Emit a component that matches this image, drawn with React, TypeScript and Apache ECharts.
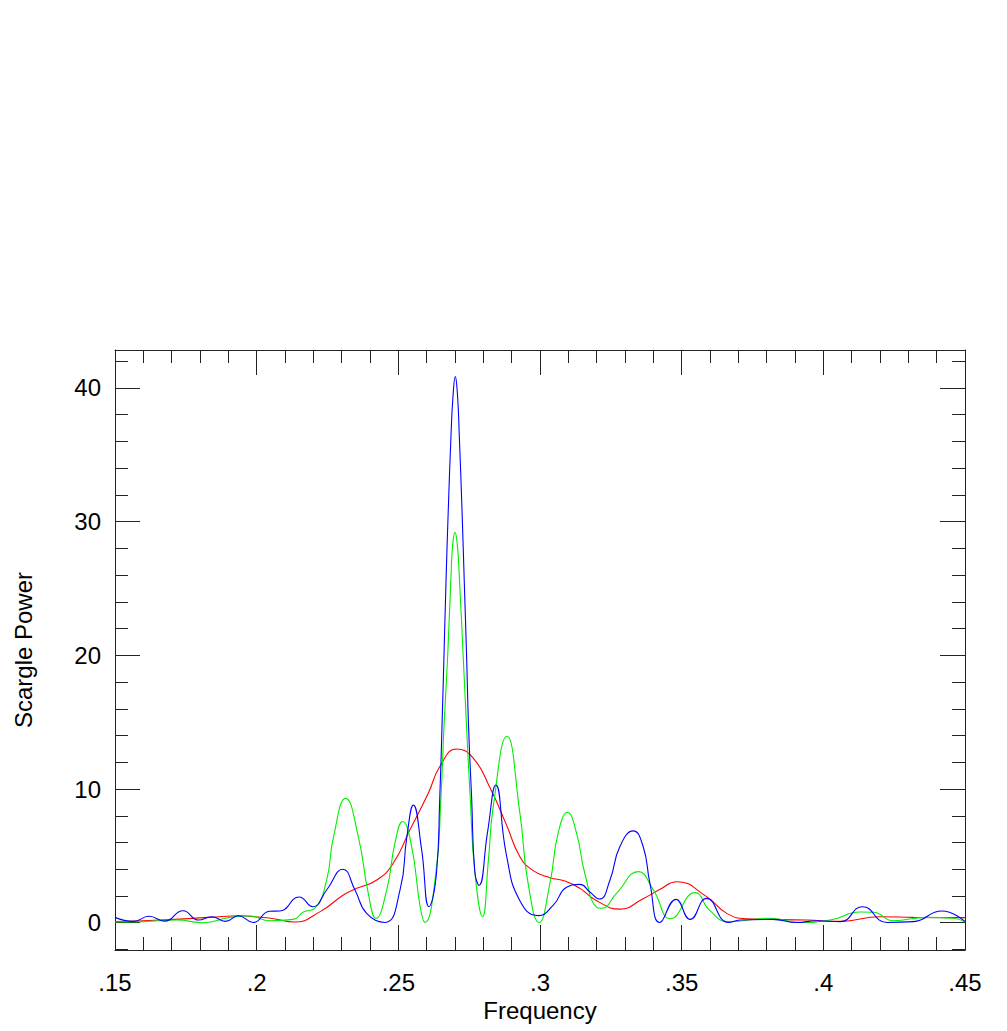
import React, { useEffect, useRef } from "react";
import * as echarts from "echarts";

// ---- Axis ticks / labels ----
const xMajorTicks = [0.15, 0.2, 0.25, 0.3, 0.35, 0.4, 0.45];
const xTickLabels = [".15", ".2", ".25", ".3", ".35", ".4", ".45"];
const xMinorTicks = [
  0.16, 0.17, 0.18, 0.19, 0.21, 0.22, 0.23, 0.24, 0.26, 0.27, 0.28, 0.29,
  0.31, 0.32, 0.33, 0.34, 0.36, 0.37, 0.38, 0.39, 0.41, 0.42, 0.43, 0.44,
];
const yMajorTicks = [0, 10, 20, 30, 40];
const yTickLabels = ["0", "10", "20", "30", "40"];
const yMinorTicks = [
  -2, 2, 4, 6, 8, 12, 14, 16, 18, 22, 24, 26, 28, 32, 34, 36, 38, 42,
];
const xMin = 0.15;
const xMax = 0.45;
const yMin = -2.04;
const yMax = 42.84;

// ---- Blue series ----
const blueFreq = [
  0.15, 0.1565, 0.162, 0.1675, 0.174, 0.1795, 0.184, 0.189, 0.1935, 0.1988,
  0.2045, 0.2082, 0.215, 0.2198, 0.2247, 0.2304, 0.2347, 0.2388, 0.2453,
  0.2506, 0.253, 0.2553, 0.2582, 0.2608, 0.2635, 0.2646, 0.2654, 0.2661,
  0.2668, 0.2676, 0.2686, 0.2693, 0.2701, 0.2709, 0.2715, 0.2725, 0.2733,
  0.2741, 0.2748, 0.2759, 0.277, 0.2785, 0.2815, 0.2844, 0.2882, 0.2929,
  0.2994, 0.3047, 0.3094, 0.3141, 0.3176, 0.321, 0.3247, 0.3282, 0.3329,
  0.3364, 0.3388, 0.3423, 0.348, 0.353, 0.3588, 0.3665, 0.3706, 0.3824,
  0.3906, 0.3976, 0.406, 0.4138, 0.4224, 0.4318, 0.4418, 0.45,
];
const bluePower = [
  0.4, 0.1, 0.48, 0.12, 0.9, 0.2, 0.45, 0.1, 0.52, 0.02, 0.86, 0.88, 1.92,
  1.2, 2.45, 4.0, 2.45, 0.7, 0.02, 2.45, 6.4, 8.8, 5.5, 1.2, 3.8, 9.2, 14.6,
  19.9, 25.3, 30.7, 36.5, 39.4, 40.85, 39.4, 36.5, 30.7, 25.3, 19.9, 14.6,
  9.2, 3.8, 2.8, 6.8, 10.3, 5.0, 1.65, 0.53, 1.32, 2.65, 2.87, 2.3, 1.77, 3.2,
  5.7, 6.87, 5.7, 2.95, 0.02, 1.75, 0.25, 1.82, 0.02, 0.2, 0.25, 0.02, 0.15,
  0.08, 1.2, 0.02, 0.08, 0.88, 0.1,
];

// ---- Green series ----
const greenFreq = [
  0.15, 0.16, 0.1718, 0.1812, 0.1906, 0.1976, 0.2047, 0.2129, 0.2165, 0.2206,
  0.2247, 0.2271, 0.2314, 0.2359, 0.2394, 0.2421, 0.2459, 0.2488, 0.2515,
  0.2547, 0.2577, 0.2594, 0.2633, 0.265, 0.2661, 0.2674, 0.2686, 0.2692,
  0.27, 0.2708, 0.2715, 0.2729, 0.2741, 0.2754, 0.277, 0.2797, 0.2818,
  0.2835, 0.2883, 0.2929, 0.2958, 0.2997, 0.3035, 0.3064, 0.3097, 0.3129,
  0.3158, 0.32, 0.3217, 0.327, 0.3347, 0.34, 0.3461, 0.3547, 0.36, 0.3665,
  0.381, 0.3918, 0.4024, 0.413, 0.4177, 0.4247, 0.4365, 0.446, 0.45,
];
const greenPower = [
  0.05, 0.08, 0.2, 0.0, 0.4, 0.5, 0.15, 0.25, 0.8, 1.1, 3.2, 6.4, 9.3, 6.4,
  2.2, 0.33, 2.45, 5.95, 7.57, 5.7, 1.2, 0.02, 3.8, 9.2, 14.6, 19.9, 26.0,
  28.3, 29.2, 28.3, 26.0, 19.9, 14.6, 9.2, 3.8, 0.45, 4.7, 8.7, 13.95, 8.2,
  2.95, 0.02, 2.95, 6.7, 8.24, 6.7, 3.7, 1.15, 1.08, 2.2, 3.82, 2.45, 0.3,
  2.25, 0.9, 0.08, 0.33, 0.02, 0.2, 0.8, 0.78, 0.15, 0.4, 0.33, 0.05,
];

// ---- Red series ----
const redFreq = [
  0.15, 0.1659, 0.1835, 0.1947, 0.199, 0.206, 0.2132, 0.2224, 0.2306, 0.2353,
  0.2424, 0.2482, 0.2541, 0.2606, 0.2647, 0.2706, 0.2765, 0.2824, 0.2882,
  0.2929, 0.2976, 0.3035, 0.3088, 0.3141, 0.32, 0.3282, 0.3364, 0.3424,
  0.3482, 0.3588, 0.3659, 0.373, 0.3941, 0.406, 0.42, 0.4318, 0.45,
];
const redPower = [
  0.08, 0.2, 0.4, 0.52, 0.45, 0.3, 0.05, 0.83, 2.07, 2.57, 3.2, 4.45, 6.95,
  9.7, 11.7, 13.0, 12.3, 10.07, 7.3, 4.94, 3.9, 3.37, 3.12, 2.57, 1.65, 1.02,
  1.8, 2.5, 3.07, 1.95, 0.7, 0.3, 0.2, 0.1, 0.45, 0.4, 0.38,
];

const FONT = "'Liberation Sans', Arial, Helvetica, sans-serif";
const AXIS_COLOR = "#222";

function pairs(xs: number[], ys: number[]) {
  return xs.map((x, i) => [x, ys[i]]);
}

export default function App() {
  const ref = useRef<HTMLDivElement>(null);

  useEffect(() => {
    if (!ref.current) return;
    const chart = echarts.init(ref.current, undefined, { renderer: "svg" });

    const lineStyle = { color: AXIS_COLOR, width: 1 };
    const labelStyle = { fontSize: 24, color: "#000", fontFamily: FONT };

    const xBase = {
      type: "value" as const,
      min: xMin,
      max: xMax,
      splitLine: { show: false },
    };
    const yBase = {
      type: "value" as const,
      min: yMin,
      max: yMax,
      splitLine: { show: false },
    };

    const xLabelFmt = (v: number) => {
      const i = xMajorTicks.findIndex((t) => Math.abs(t - v) < 1e-6);
      return i >= 0 ? xTickLabels[i] : "";
    };
    const yLabelFmt = (v: number) => {
      const i = yMajorTicks.findIndex((t) => Math.abs(t - v) < 1e-6);
      return i >= 0 ? yTickLabels[i] : "";
    };

    const seriesCommon = {
      type: "line" as const,
      xAxisIndex: 0,
      yAxisIndex: 0,
      smooth: 0.5,
      showSymbol: false,
    };

    chart.setOption({
      animation: false,
      backgroundColor: "#fff",
      grid: {
        left: 115,
        right: 42,
        top: 350,
        bottom: 81,
        containLabel: false,
        outerBoundsMode: "none",
      },
      xAxis: [
        {
          ...xBase,
          position: "bottom",
          axisLine: { show: true, onZero: false, lineStyle },
          axisTick: { show: true, inside: true, length: 25, customValues: xMajorTicks, lineStyle },
          axisLabel: { show: true, customValues: xMajorTicks, formatter: xLabelFmt, margin: 20, ...labelStyle },
          name: "Frequency",
          nameLocation: "middle",
          nameGap: 47,
          nameTextStyle: { ...labelStyle },
        },
        {
          ...xBase,
          position: "bottom",
          axisLine: { show: false, onZero: false },
          axisTick: { show: true, inside: true, length: 13, customValues: xMinorTicks, lineStyle },
          axisLabel: { show: false },
        },
        {
          ...xBase,
          position: "top",
          axisLine: { show: true, onZero: false, lineStyle },
          axisTick: { show: true, inside: true, length: 25, customValues: xMajorTicks, lineStyle },
          axisLabel: { show: false },
        },
        {
          ...xBase,
          position: "top",
          axisLine: { show: false, onZero: false },
          axisTick: { show: true, inside: true, length: 13, customValues: xMinorTicks, lineStyle },
          axisLabel: { show: false },
        },
      ],
      yAxis: [
        {
          ...yBase,
          position: "left",
          axisLine: { show: true, onZero: false, lineStyle },
          axisTick: { show: true, inside: true, length: 25, customValues: yMajorTicks, lineStyle },
          axisLabel: { show: true, customValues: yMajorTicks, formatter: yLabelFmt, margin: 14, ...labelStyle },
          name: "Scargle Power",
          nameLocation: "middle",
          nameGap: 80,
          nameTextStyle: { ...labelStyle },
        },
        {
          ...yBase,
          position: "left",
          axisLine: { show: false, onZero: false },
          axisTick: { show: true, inside: true, length: 13, customValues: yMinorTicks, lineStyle },
          axisLabel: { show: false },
        },
        {
          ...yBase,
          position: "right",
          axisLine: { show: true, onZero: false, lineStyle },
          axisTick: { show: true, inside: true, length: 25, customValues: yMajorTicks, lineStyle },
          axisLabel: { show: false },
        },
        {
          ...yBase,
          position: "right",
          axisLine: { show: false, onZero: false },
          axisTick: { show: true, inside: true, length: 13, customValues: yMinorTicks, lineStyle },
          axisLabel: { show: false },
        },
      ],
      series: [
        {
          ...seriesCommon,
          name: "blue",
          data: pairs(blueFreq, bluePower),
          lineStyle: { color: "#0000ff", width: 1.1 },
          z: 3,
        },
        {
          ...seriesCommon,
          name: "green",
          data: pairs(greenFreq, greenPower),
          lineStyle: { color: "#00ee00", width: 1.1 },
          z: 2,
        },
        {
          ...seriesCommon,
          name: "red",
          data: pairs(redFreq, redPower),
          lineStyle: { color: "#ff0000", width: 1.1 },
          z: 1,
        },
      ],
    });

    return () => chart.dispose();
  }, []);

  return (
    <div
      ref={ref}
      style={{ position: "fixed", left: 0, top: 0, width: 1007, height: 1031 }}
    />
  );
}
